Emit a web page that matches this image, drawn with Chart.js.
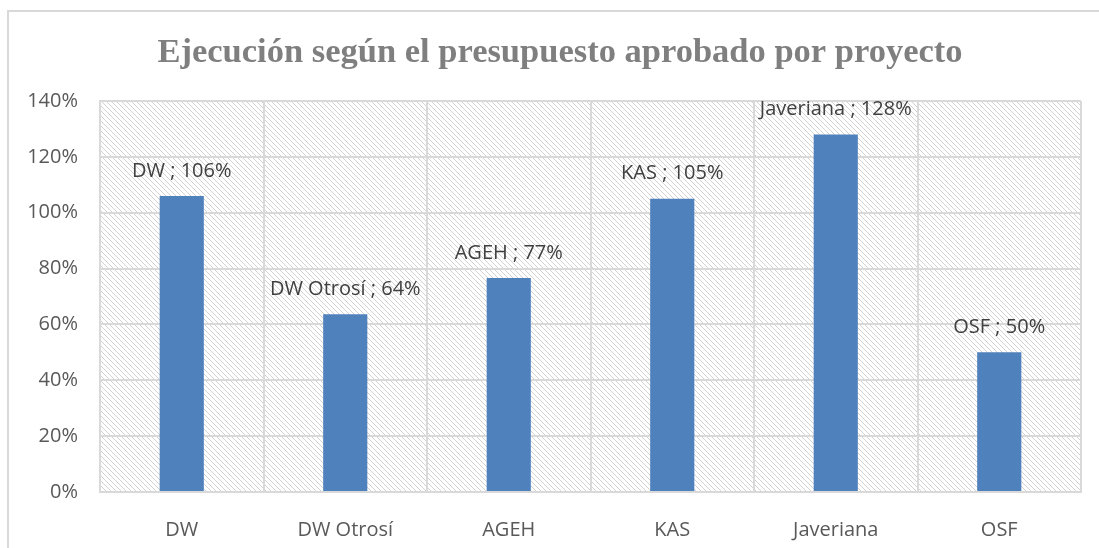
<!DOCTYPE html>
<html>
<head>
<meta charset="utf-8">
<script src="https://cdn.jsdelivr.net/npm/chart.js@4"></script>
<style>
  html, body { margin: 0; padding: 0; background: #fff; }
  #wrap { width: 1099px; height: 548px; position: relative; }
</style>
</head>
<body>
<div id="wrap"><canvas id="myChart"></canvas></div>
<script>
const projects = ["DW", "DW Otrosí", "AGEH", "KAS", "Javeriana", "OSF"];
const execution = [1.06, 0.636, 0.766, 1.05, 1.28, 0.50];
const labelPercents = [106, 64, 77, 105, 128, 50];
const chartTitle = 'Ejecución según el presupuesto aprobado por proyecto';

// light downward-diagonal hatch like the Excel plot area
function makeHatch() {
  const c = document.createElement('canvas');
  c.width = 5; c.height = 5;
  const g = c.getContext('2d');
  g.fillStyle = '#ffffff';
  g.fillRect(0, 0, 5, 5);
  g.fillStyle = '#d2d2d2';
  for (let i = 0; i < 5; i++) g.fillRect(i, i, 1, 1);
  return g.createPattern(c, 'repeat');
}

const decorPlugin = {
  id: 'decor',
  beforeDraw(chart) {
    const { ctx, chartArea: a } = chart;
    ctx.save();
    ctx.fillStyle = makeHatch();
    ctx.fillRect(a.left, a.top, a.right - a.left, a.bottom - a.top);
    ctx.restore();
  },
  afterDraw(chart) {
    const { ctx } = chart;
    ctx.save();
    // outer chart frame (right/bottom edges fall outside the picture)
    ctx.strokeStyle = '#d9d9d9';
    ctx.lineWidth = 2;
    ctx.beginPath();
    ctx.moveTo(8, 548);
    ctx.lineTo(8, 11);
    ctx.lineTo(1099, 11);
    ctx.stroke();

    // title, centred a bit right of the canvas like the original
    ctx.font = 'bold 34.5px "Liberation Serif"';
    ctx.fillStyle = '#7f7f7f';
    ctx.textAlign = 'center';
    ctx.textBaseline = 'alphabetic';
    ctx.fillText(chartTitle, 560, 62);

    // data labels "name ; xx%"
    const meta = chart.getDatasetMeta(0);
    ctx.font = '20px "Open Sans"';
    ctx.fillStyle = '#404040';
    ctx.textBaseline = 'middle';
    meta.data.forEach((bar, i) => {
      ctx.fillText(projects[i] + ' ; ' + labelPercents[i] + '%', bar.x, bar.y - 25);
    });
    ctx.restore();
  }
};

const ctx = document.getElementById('myChart');
const config = {
  type: 'bar',
  data: {
    labels: projects,
    datasets: [{
      data: execution,
      backgroundColor: '#4f81bd',
      borderWidth: 0,
      categoryPercentage: 1,
      barPercentage: 0.27
    }]
  },
  options: {
    responsive: true,
    maintainAspectRatio: false,
    animation: false,
    layout: { padding: { left: 0, right: 18, top: 101, bottom: 0 } },
    plugins: {
      legend: { display: false },
      tooltip: { enabled: false },
      title: { display: false }
    },
    scales: {
      x: {
        grid: { color: '#d9d9d9', lineWidth: 2, drawTicks: false, offset: true },
        border: { color: '#d9d9d9', width: 2 },
        ticks: { color: '#595959', font: { family: '"Open Sans"', size: 20 }, padding: 26 },
        afterFit(scale) { scale.height = 56; }
      },
      y: {
        min: 0,
        max: 1.4,
        grid: { color: '#d9d9d9', lineWidth: 2, drawTicks: false },
        border: { color: '#d9d9d9', width: 2 },
        ticks: {
          stepSize: 0.2,
          color: '#595959',
          font: { family: '"Open Sans"', size: 20 },
          padding: 22,
          callback: v => Math.round(v * 100) + '%'
        },
        afterFit(scale) { scale.width = 100; }
      }
    }
  },
  plugins: [decorPlugin]
};

new Chart(ctx, config);
</script>
</body>
</html>
